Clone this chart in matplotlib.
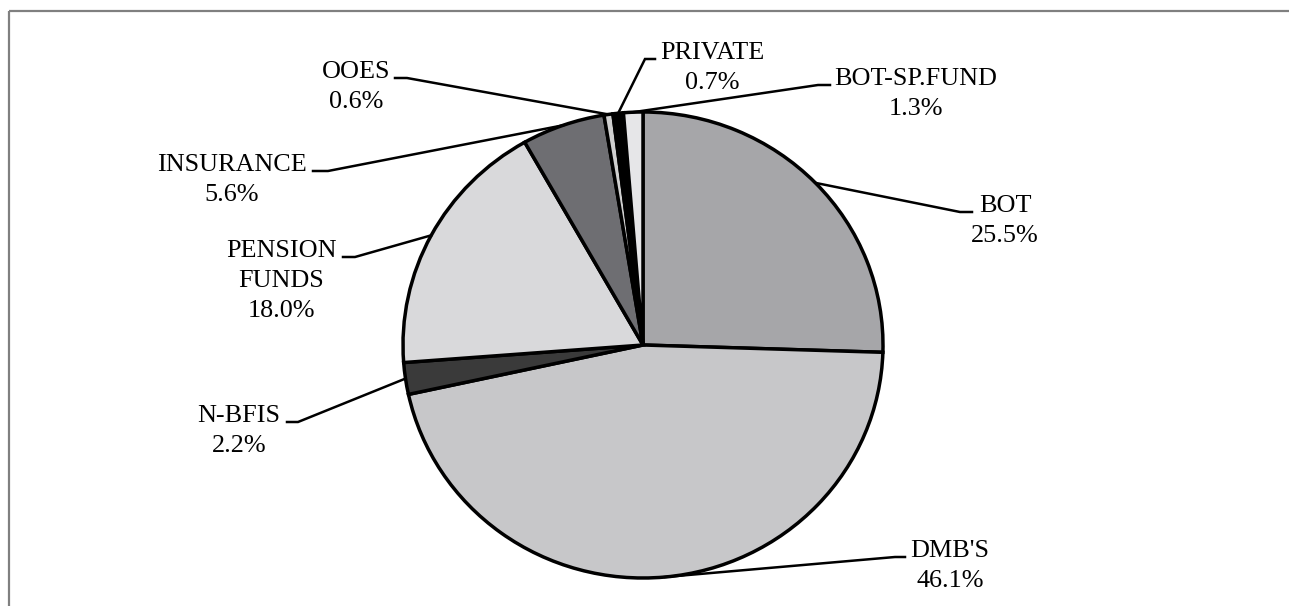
import numpy as np
import matplotlib
matplotlib.use("Agg")
import matplotlib.pyplot as plt

# data (clockwise from 12 o'clock)
holders = ["BOT", "DMB'S", "N-BFIS", "PENSION\nFUNDS", "INSURANCE",
           "OOES", "PRIVATE", "BOT-SP.FUND"]
shares = [25.5, 46.1, 2.2, 18.0, 5.6, 0.6, 0.7, 1.3]
colors = ["#a6a6a9", "#c7c7c9", "#3a3a3a", "#d9d9db", "#6e6e72",
          "#cfcfcf", "#000000", "#e6e6e8"]

# label placement in pixels: text centre x, first baseline y, elbow x, end x
label_pos = {
    "BOT": (1005, 212, 960, 972),
    "DMB'S": (950, 557, 895, 905),
    "N-BFIS": (239, 422, 298, 287),
    "PENSION\nFUNDS": (281, 257, 355, 343),
    "INSURANCE": (232, 171, 328, 313),
    "OOES": (356, 78, 407, 395),
    "PRIVATE": (712, 59, 645, 655),
    "BOT-SP.FUND": (916, 85, 818, 830),
}

W, H = 1289, 606
fig = plt.figure(figsize=(W / 100, H / 100), dpi=100)
fig.patch.set_facecolor("white")

# pie axes spans the (slightly elliptical) pie bounding box
cx, cy, rx, ry = 643, 345, 240, 233
pie_ax = fig.add_axes([(cx - rx) / W, (H - cy - ry) / H, 2 * rx / W, 2 * ry / H])
wedges, _ = pie_ax.pie(shares, colors=colors, startangle=90, counterclock=False,
                       radius=1, frame=True,
                       wedgeprops=dict(edgecolor="black", linewidth=2.5,
                                       clip_on=False))
pie_ax.set_xlim(-1, 1)
pie_ax.set_ylim(-1, 1)
pie_ax.set_aspect("auto")
pie_ax.axis("off")

# overlay in pixel coordinates for labels, leader lines and frame
ov = fig.add_axes([0, 0, 1, 1], zorder=3)
ov.set_xlim(0, W)
ov.set_ylim(H, 0)
ov.axis("off")

ov.plot([9, W], [11, 11], color="#808080", lw=1.6, solid_capstyle="butt")
ov.plot([9, 9], [11, H], color="#808080", lw=1.6, solid_capstyle="butt")

to_px = pie_ax.transData + ov.transData.inverted()
font = dict(family=["Liberation Serif", "DejaVu Serif"], fontsize=18.8,
            color="black")

for w, name, val in zip(wedges, holders, shares):
    mid = np.deg2rad((w.theta1 + w.theta2) / 2)
    ax_pt = to_px.transform((np.cos(mid), np.sin(mid)))
    tx, base, elbow_x, end_x = label_pos[name]
    ov.plot([ax_pt[0], elbow_x, end_x], [ax_pt[1], base, base],
            color="black", lw=1.8, solid_joinstyle="miter")
    lines = name.split("\n") + [f"{val:.1f}%"]
    for i, line in enumerate(lines):
        ov.text(tx, base + i * 30, line, ha="center", va="baseline", **font)

fig.savefig("out.png", dpi=100)
